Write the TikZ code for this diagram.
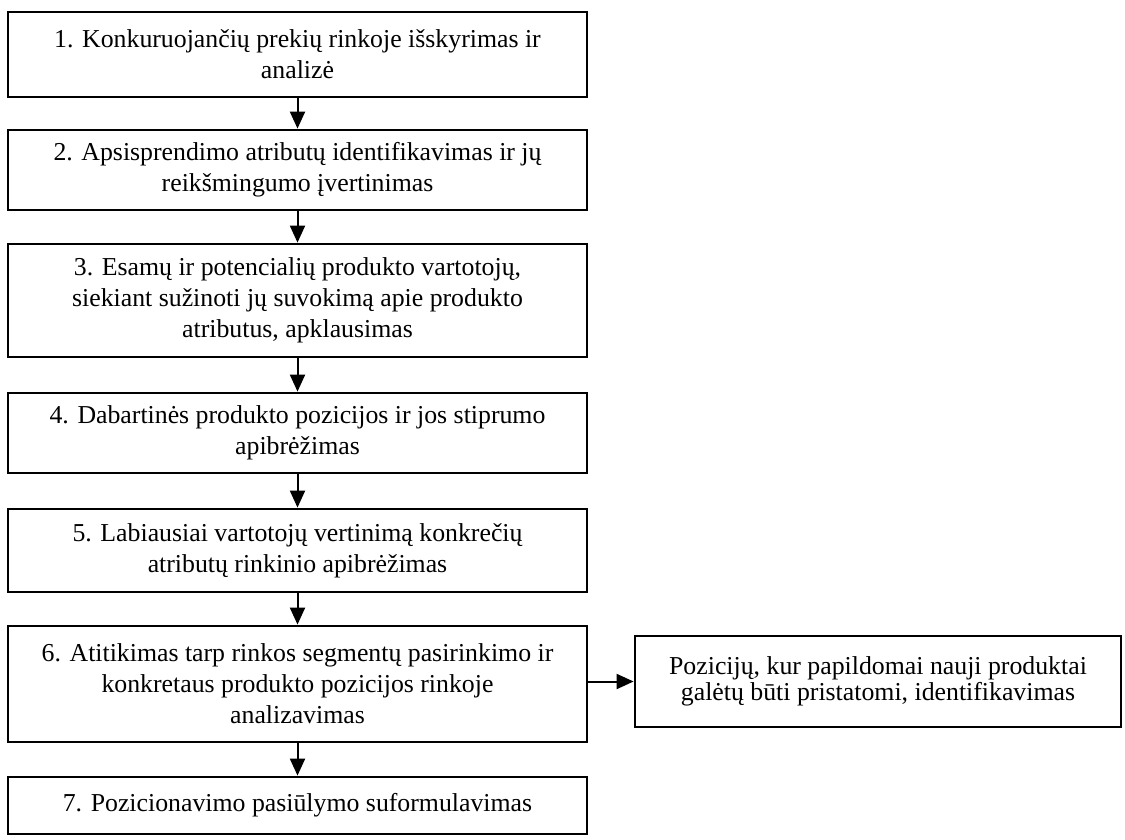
\documentclass[tikz,border=0pt]{standalone}
\usepackage{fontspec}
\setmainfont{Liberation Serif}
\usetikzlibrary{arrows.meta}
\begin{document}
\begin{tikzpicture}[x=1pt,y=-1pt,
  box/.style={draw,line width=2.8pt,align=center,inner sep=0pt,
    font=\fontsize{25.8}{31}\selectfont},
  sidebox/.style={box,font=\fontsize{25.8}{25.5}\selectfont},
  arr/.style={-{Triangle[length=17pt,width=15pt]},line width=2pt}]
\useasboundingbox (0,0) rectangle (1125,839);
\node[box,minimum width=579pt,minimum height=85pt] (b1) at (297.5,54.5)
  {1. Konkuruojančių prekių rinkoje išskyrimas ir\\analizė};
\node[box,minimum width=579pt,minimum height=80pt] (b2) at (297.5,170)
  {2. Apsisprendimo atributų identifikavimas ir jų\\reikšmingumo įvertinimas};
\node[box,minimum width=579pt,minimum height=113pt] (b3) at (297.5,300.5)
  {3. Esamų ir potencialių produkto vartotojų,\\siekiant sužinoti jų suvokimą apie produkto\\atributus, apklausimas};
\node[box,minimum width=579pt,minimum height=80pt] (b4) at (297.5,433)
  {4. Dabartinės produkto pozicijos ir jos stiprumo\\apibrėžimas};
\node[box,minimum width=579pt,minimum height=83pt] (b5) at (297.5,550.5)
  {5. Labiausiai vartotojų vertinimą konkrečių\\atributų rinkinio apibrėžimas};
\node[box,minimum width=579pt,minimum height=116pt] (b6) at (297.5,684)
  {6. Atitikimas tarp rinkos segmentų pasirinkimo ir\\konkretaus produkto pozicijos rinkoje\\analizavimas};
\node[box,minimum width=579pt,minimum height=57pt] (b7) at (297.5,805.5)
  {7. Pozicionavimo pasiūlymo suformulavimas};
\node[sidebox,minimum width=486pt,minimum height=91pt] (r) at (878,681.5)
  {Pozicijų, kur papildomai nauji produktai\\galėtų būti pristatomi, identifikavimas};
\draw[arr] (b1) -- (b2);
\draw[arr] (b2) -- (b3);
\draw[arr] (b3) -- (b4);
\draw[arr] (b4) -- (b5);
\draw[arr] (b5) -- (b6);
\draw[arr] (b6) -- (b7);
\draw[arr] (r.west -| b6.east) -- (r.west);
\end{tikzpicture}
\end{document}
